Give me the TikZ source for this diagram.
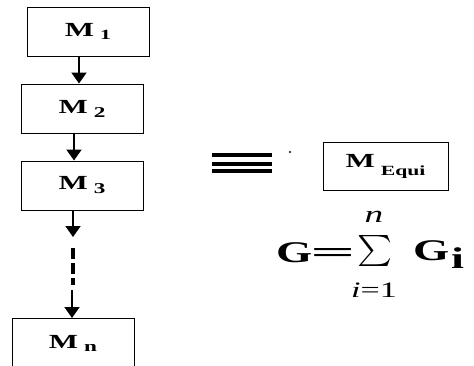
\documentclass[tikz,border=0pt]{standalone}
\usepackage{fontspec}
\usepackage{graphicx}
\usetikzlibrary{arrows.meta}
\setmainfont{Liberation Serif}
\newfontfamily\wideserif[FakeStretch=1.55]{Liberation Serif}

\begin{document}
\begin{tikzpicture}[x=1pt, y=-1pt,
    mbox/.style={draw, line width=1pt, minimum width=122pt, minimum height=49pt,
        inner sep=0pt, font=\wideserif\bfseries\fontsize{20}{20}\selectfont},
    flow/.style={line width=2pt, -{Triangle[width=15pt,length=11pt]}},
    big/.style={inner sep=0pt, font=\wideserif\bfseries\fontsize{30}{30}\selectfont}]
    \useasboundingbox (0,0) rectangle (474,365);

    % Chain of models
    \node[mbox] (m1) at (88,31.5) {M\hspace{6pt}\raisebox{-3pt}{\fontsize{14}{14}\selectfont 1}};
    \node[mbox] (m2) at (82,108.5) {M\hspace{6pt}\raisebox{-4pt}{\fontsize{15}{15}\selectfont 2}};
    \node[mbox] (m3) at (82,185.5) {M\hspace{6pt}\raisebox{-4pt}{\fontsize{15}{15}\selectfont 3}};
    \node[mbox] (mn) at (73,343) {M\hspace{6pt}\raisebox{-3pt}{\fontsize{15}{15}\selectfont n}};

    % Arrows
    \coordinate (gapa) at (73,237);
    \coordinate (dotsa) at (73,248);
    \coordinate (dotsb) at (73,285);
    \coordinate (gapb) at (72,290);
    \draw[flow] (m1.south -| 79,0) -- (m2.north -| 79,0);
    \draw[flow] (m2.south -| 74,0) -- (m3.north -| 74,0);
    \draw[flow] (m3.south -| 73,0) -- (gapa);
    \draw[line width=4pt, dash pattern=on 11pt off 4pt] (dotsa) -- (dotsb);
    \draw[flow] (gapb) -- (mn.north -| 72,0);

    % Equivalence
    \foreach \y in {155,164,171}
        \draw[line width=4pt] (212,\y) -- (272,\y);
    \fill (290,152) circle (1.2pt);
    \node[mbox, minimum width=125pt, minimum height=48pt] (meq) at (385.5,166)
        {M\hspace{6pt}\raisebox{-8pt}{\fontsize{14}{14}\selectfont Equi}};

    % Sum
    \node[big, anchor=base west] (gl) at (276,262) {G};
    \node[big, anchor=base] (eq) at (333,262) {\scalebox{1.7}[1]{=}};
    \node[inner sep=0pt] (sig) at (375,251) {\resizebox*{35pt}{31pt}{$\sum$}};
    \node[anchor=base, inner sep=0pt, font=\wideserif\itshape\fontsize{24}{24}\selectfont] (up) at (374,222) {n};
    \node[anchor=base, inner sep=0pt, font=\wideserif\fontsize{22}{22}\selectfont] (lo) at (374,297) {\textit{i}=1};
    \node[big, anchor=base west] (gr) at (413,260) {G};
    \node[big, anchor=base west] (gi) at (451,268) {i};
\end{tikzpicture}
\end{document}
